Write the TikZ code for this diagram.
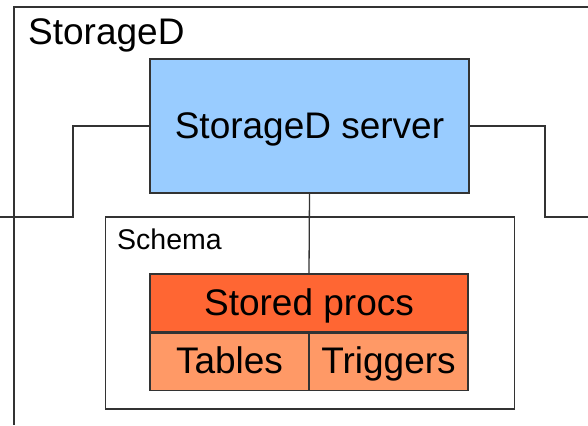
\documentclass[tikz,border=0pt]{standalone}
\usepackage{fontspec}
\setmainfont{Liberation Sans}
\usepackage{tikz}
\usetikzlibrary{positioning, calc}
\usepackage{xcolor}
\definecolor{serverblue}{HTML}{99CCFF}
\definecolor{procorange}{HTML}{FF6633}
\definecolor{tableorange}{HTML}{FF9966}
\definecolor{edgegray}{HTML}{333333}

\begin{document}
\begin{tikzpicture}[x=1pt, y=-1pt,
  box/.style={draw=edgegray, line width=1.3pt, inner sep=0pt},
  wire/.style={draw=edgegray, line width=1.3pt},
  bigtext/.style={font=\fontsize{37}{40}\selectfont, text height=24pt, text depth=0pt}]
  \useasboundingbox (0,0) rectangle (588,425);
  \draw[wire] (588,7) -| (14,425);
  \node[anchor=base west, inner sep=0pt, font=\fontsize{37}{40}\selectfont] (storaged) at (28,45) {StorageD};
  \node[box, fill=serverblue, minimum width=319pt, minimum height=134pt, bigtext] (server) at (309.5,126) {StorageD server};
  \node[box, minimum width=409pt, minimum height=192pt] (schema) at (310,313) {};
  \node[anchor=base west, inner sep=0pt, font=\fontsize{28.5}{30}\selectfont] (schemalabel) at (117,249) {Schema};
  \node[box, fill=procorange, minimum width=318pt, minimum height=58pt, bigtext] (procs) at (309,303) {Stored procs};
  \node[box, fill=tableorange, minimum width=159pt, minimum height=57pt, bigtext, anchor=north west] (tables) at (procs.south west) {Tables};
  \node[box, fill=tableorange, minimum width=159pt, minimum height=57pt, bigtext, anchor=north east] (triggers) at (procs.south east) {Triggers};
  \coordinate (lbend) at (73,217);
  \coordinate (lend) at (0,217);
  \coordinate (rbend) at (545,217);
  \coordinate (rend) at (588,217);
  \draw[wire] (server.west) -| (lbend) -- (lend);
  \draw[wire] (server.east) -| (rbend) -- (rend);
  \draw[wire] (server.south) -- (procs.north);
\end{tikzpicture}
\end{document}
